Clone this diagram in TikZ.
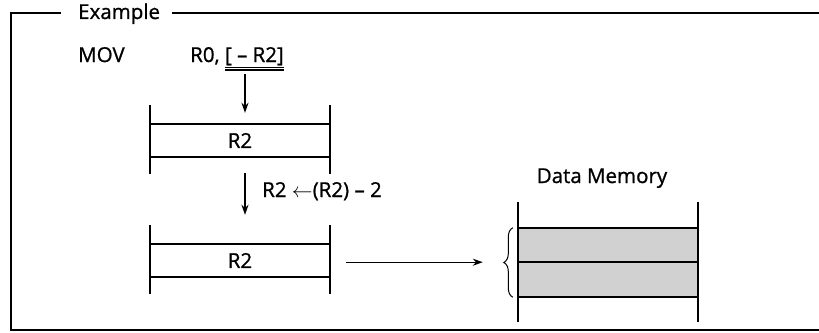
\documentclass[tikz,border=0pt]{standalone}
\usepackage{fontspec}
\setmainfont{Open Sans}[FakeBold=0.9]
\usetikzlibrary{arrows.meta,positioning,decorations.pathreplacing}
\tikzset{
  rule/.style={line width=1.5pt},
  arr/.style={line width=1.4pt,-{Stealth[length=10pt,width=7pt]}},
  cell/.style={minimum width=180pt,inner sep=0pt},
  txt/.style={inner sep=0pt,anchor=base west},
}
\begin{document}
\begin{tikzpicture}[x=1pt,y=-1pt,font=\fontsize{20.5}{24}\selectfont]
  \useasboundingbox (0,0) rectangle (819,332);
  % frame with its title
  \node[txt] (title) at (78,19) {Example};
  \draw[rule] (title.base west) ++(-17,-6) -- (11,13) -- (11,330) -- (819,330);
  \draw[rule] (title.base east) ++(12,-6) -- (819,13);

  % instruction
  \node[txt] (mov) at (78,62) {MOV};
  \node[txt] (r0) at (190,62) {R0,};
  \node[txt,xshift=5pt] (opnd) at (r0.base east) {[ – R2]};
  \draw[line width=0.9pt] ([yshift=-5pt]opnd.base west) -- ([yshift=-5pt]opnd.base east);
  \draw[line width=1.6pt] ([yshift=-8pt]opnd.base west) -- ([yshift=-8pt]opnd.base east);

  % register R2, before and after
  \node[cell,minimum height=33pt] (reg1) at (240,140.5) {R2};
  \node[cell,minimum height=33pt] (reg2) at (240,260.5) {R2};
  \foreach \r in {reg1,reg2} {
    \draw[rule] (\r.north west) -- (\r.north east) (\r.south west) -- (\r.south east);
    \draw[rule] ([yshift=19pt]\r.north west) -- ([yshift=-17pt]\r.south west);
    \draw[rule] ([yshift=19pt]\r.north east) -- ([yshift=-17pt]\r.south east);
  }
  \coordinate (in1) at ([xshift=5pt,yshift=11pt]reg1.north);
  \draw[arr] (in1 |- opnd.south) ++(0,9) -- (in1);
  \draw[arr] ([xshift=5pt,yshift=-16pt]reg1.south) -- ([xshift=5pt,yshift=29pt]reg2.north);
  \node[txt] (dec) at (262,197) {R2 $\leftarrow$(R2) – 2};

  % data memory
  \node[anchor=base,inner sep=0pt] (memlabel) at (602,183) {Data Memory};
  \node[cell,minimum height=34pt,fill=black!18] (mem1) at (608,245) {};
  \node[cell,minimum height=35pt,fill=black!18] (mem2) at (608,279.5) {};
  \draw[rule] (mem1.north west) -- (mem1.north east) (mem1.south west) -- (mem1.south east)
    (mem2.south west) -- (mem2.south east);
  \draw[rule] ([yshift=26pt]mem1.north west) -- ([yshift=-25pt]mem2.south west);
  \draw[rule] ([yshift=26pt]mem1.north east) -- ([yshift=-25pt]mem2.south east);
  \draw[decorate,decoration={brace,amplitude=9pt},line width=1pt]
    ([xshift=-5pt]mem2.south west) -- ([xshift=-5pt]mem1.north west);
  \coordinate (out1) at ([xshift=-35pt]mem1.south west);
  \draw[arr] ([xshift=16pt]reg2.east |- out1) -- (out1);
\end{tikzpicture}
\end{document}
